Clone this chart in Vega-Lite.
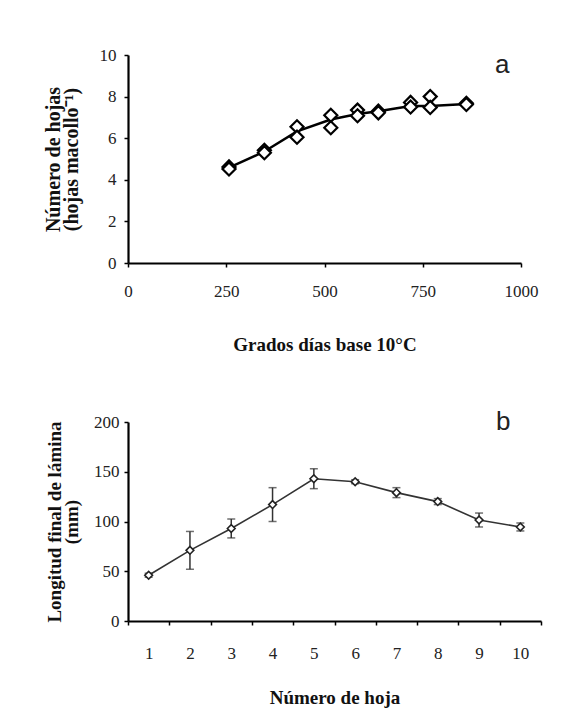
{
  "$schema": "https://vega.github.io/schema/vega-lite/v6.json",
  "background": "white",
  "autosize": {"type": "pad"},
  "padding": {"left": 43, "top": 46, "right": 10, "bottom": 5},
  "bounds": "flush",
  "spacing": 159,
  "config": {
    "view": {"stroke": null},
    "font": "Liberation Serif",
    "axis": {
      "grid": false,
      "labelFlush": false,
      "domainColor": "black",
      "domainWidth": 2.2,
      "tickColor": "black",
      "tickWidth": 1.5,
      "tickSize": 4,
      "labelFont": "Liberation Serif",
      "labelFontSize": 17,
      "labelColor": "#222",
      "titleFont": "Liberation Serif",
      "titleFontSize": 19,
      "titleFontWeight": "bold",
      "titleColor": "#111"
    }
  },
  "datasets": {
    "hojas": [
      {"gd": 257, "n": 4.62}, {"gd": 257, "n": 4.52},
      {"gd": 347, "n": 5.42}, {"gd": 347, "n": 5.3},
      {"gd": 430, "n": 6.55}, {"gd": 430, "n": 6.05},
      {"gd": 516, "n": 7.1}, {"gd": 516, "n": 6.5},
      {"gd": 584, "n": 7.35}, {"gd": 584, "n": 7.08},
      {"gd": 637, "n": 7.3}, {"gd": 637, "n": 7.22},
      {"gd": 719, "n": 7.72}, {"gd": 719, "n": 7.5},
      {"gd": 769, "n": 8.0}, {"gd": 769, "n": 7.48},
      {"gd": 861, "n": 7.68}, {"gd": 861, "n": 7.62}
    ],
    "ajuste": [
      {"gd": 257, "n": 4.58}, {"gd": 347, "n": 5.36}, {"gd": 430, "n": 6.33},
      {"gd": 516, "n": 6.9}, {"gd": 584, "n": 7.16}, {"gd": 637, "n": 7.3},
      {"gd": 719, "n": 7.55}, {"gd": 769, "n": 7.55}, {"gd": 861, "n": 7.65}
    ],
    "lamina": [
      {"hoja": 1, "mm": 46, "lo": 44, "hi": 48},
      {"hoja": 2, "mm": 71, "lo": 52, "hi": 90},
      {"hoja": 3, "mm": 93, "lo": 83.5, "hi": 102.5},
      {"hoja": 4, "mm": 117, "lo": 100, "hi": 134},
      {"hoja": 5, "mm": 143, "lo": 133, "hi": 153},
      {"hoja": 6, "mm": 140, "lo": 138, "hi": 142},
      {"hoja": 7, "mm": 129, "lo": 124, "hi": 134},
      {"hoja": 8, "mm": 120, "lo": 117, "hi": 123},
      {"hoja": 9, "mm": 101.5, "lo": 94.5, "hi": 108.5},
      {"hoja": 10, "mm": 94.5, "lo": 90.5, "hi": 98.5}
    ]
  },
  "vconcat": [
    {
      "width": 393,
      "height": 208,
      "layer": [
        {
          "data": {"name": "ajuste"},
          "mark": {"type": "line", "color": "black", "strokeWidth": 2.5},
          "encoding": {
            "x": {
              "field": "gd", "type": "quantitative",
              "scale": {"domain": [0, 1000], "nice": false},
              "axis": {
                "values": [0, 250, 500, 750, 1000],
                "format": "d",
                "labelPadding": 16,
                "title": "Grados días base 10°C",
                "titlePadding": 36
              }
            },
            "y": {
              "field": "n", "type": "quantitative",
              "scale": {"domain": [0, 10], "nice": false},
              "axis": {
                "values": [0, 2, 4, 6, 8, 10],
                "labelPadding": 8,
                "title": ["Número de hojas", "(hojas macollo⁻¹)"],
                "titleFontSize": 20,
                "titleLineHeight": 18,
                "titlePadding": 18
              }
            }
          }
        },
        {
          "data": {"name": "hojas"},
          "mark": {"type": "point", "shape": "diamond", "filled": true, "fill": "white", "stroke": "black", "strokeWidth": 2.2, "size": 170, "opacity": 1},
          "encoding": {
            "x": {"field": "gd", "type": "quantitative"},
            "y": {"field": "n", "type": "quantitative"}
          }
        },
        {
          "data": {"values": [{"etiqueta": "a"}]},
          "mark": {"type": "text", "font": "Liberation Sans", "fontSize": 26, "baseline": "middle", "align": "center", "color": "#222"},
          "encoding": {
            "x": {"datum": 952, "type": "quantitative"},
            "y": {"datum": 9.5, "type": "quantitative"},
            "text": {"field": "etiqueta"}
          }
        }
      ]
    },
    {
      "width": 413,
      "height": 199,
      "data": {"name": "lamina"},
      "encoding": {
        "x": {
          "field": "hoja", "type": "ordinal",
          "scale": {"type": "band", "paddingInner": 0, "paddingOuter": 0},
          "axis": {
            "labelAngle": 0,
            "tickBand": "extent",
            "labelPadding": 20,
            "title": "Número de hoja",
            "titlePadding": 27
          }
        }
      },
      "layer": [
        {
          "mark": {"type": "rule", "color": "#333", "strokeWidth": 1.5},
          "encoding": {
            "y": {
              "field": "lo", "type": "quantitative",
              "scale": {"domain": [0, 200], "nice": false},
              "axis": {
                "values": [0, 50, 100, 150, 200],
                "labelPadding": 5,
                "title": ["Longitud final de lámina", "(mm)"],
                "titleFontSize": 19,
                "titleLineHeight": 17,
                "titlePadding": 12
              }
            },
            "y2": {"field": "hi"}
          }
        },
        {
          "mark": {"type": "tick", "color": "#333", "thickness": 1.5, "size": 8},
          "encoding": {"y": {"field": "lo", "type": "quantitative"}}
        },
        {
          "mark": {"type": "tick", "color": "#333", "thickness": 1.5, "size": 8},
          "encoding": {"y": {"field": "hi", "type": "quantitative"}}
        },
        {
          "mark": {"type": "line", "color": "#333", "strokeWidth": 1.6},
          "encoding": {"y": {"field": "mm", "type": "quantitative"}}
        },
        {
          "mark": {"type": "point", "shape": "diamond", "filled": true, "fill": "white", "stroke": "#222", "strokeWidth": 1.6, "size": 60, "opacity": 1},
          "encoding": {"y": {"field": "mm", "type": "quantitative"}}
        },
        {
          "data": {"values": [{"etiqueta": "b"}]},
          "mark": {"type": "text", "font": "Liberation Sans", "fontSize": 26, "baseline": "middle", "align": "center", "dx": -17, "color": "#222"},
          "encoding": {
            "x": {"datum": 10, "type": "ordinal"},
            "y": {"datum": 200, "type": "quantitative"},
            "text": {"field": "etiqueta"}
          }
        }
      ]
    }
  ]
}
